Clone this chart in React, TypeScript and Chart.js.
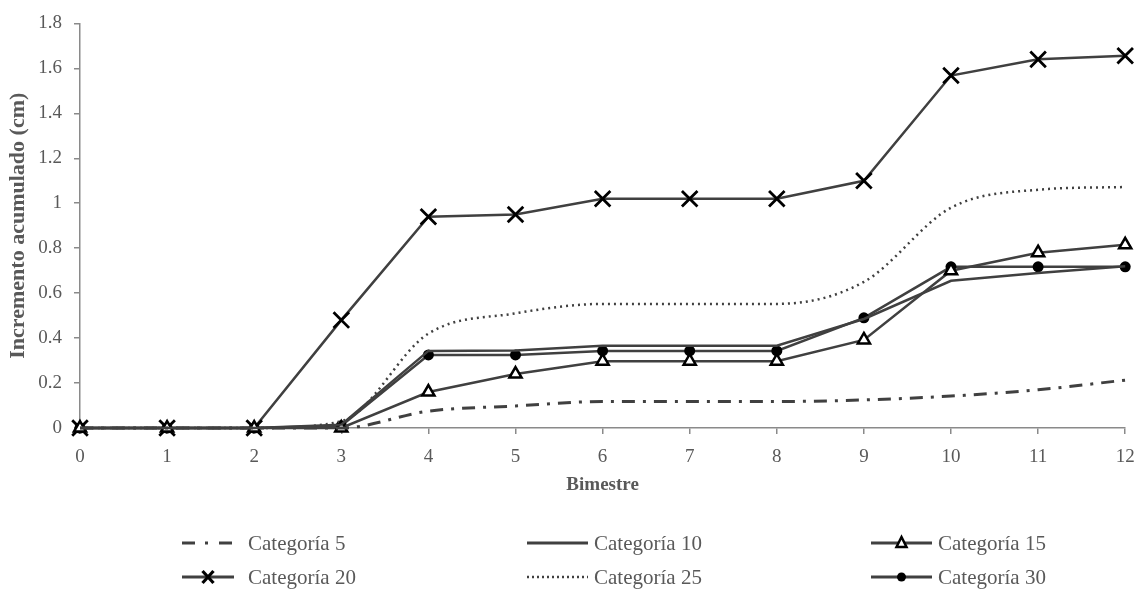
import React, { useEffect, useRef } from "react";
import { Chart, registerables } from "chart.js";

Chart.register(...registerables);

// ---------- data ----------
const bimestres = [0, 1, 2, 3, 4, 5, 6, 7, 8, 9, 10, 11, 12];
const cat5 = [0, 0, 0, 0, 0.075, 0.098, 0.118, 0.118, 0.118, 0.125, 0.142, 0.17, 0.213];
const cat10 = [0, 0, 0, 0.015, 0.343, 0.345, 0.366, 0.366, 0.366, 0.485, 0.655, 0.69, 0.72];
const cat15 = [0, 0, 0, 0, 0.16, 0.24, 0.297, 0.297, 0.297, 0.392, 0.7, 0.78, 0.815];
const cat20 = [0, 0, 0, 0.48, 0.94, 0.95, 1.02, 1.02, 1.02, 1.1, 1.568, 1.64, 1.656];
const cat25 = [0, 0, 0, 0.03, 0.42, 0.51, 0.552, 0.552, 0.552, 0.65, 0.98, 1.06, 1.072];
const cat30 = [0, 0, 0, 0.01, 0.325, 0.325, 0.343, 0.343, 0.343, 0.49, 0.717, 0.717, 0.717];
const seriesNames = ["Categoría 5", "Categoría 10", "Categoría 15", "Categoría 20", "Categoría 25", "Categoría 30"];
const yMin = 0;
const yMax = 1.8;
const yStep = 0.2;
const xTitle = "Bimestre";
const yTitle = "Incremento acumulado (cm)";

const FONT = '"Liberation Serif", "Times New Roman", serif';
const LINE = "#404040";
const AXIS = "#8a8a8a";
const TEXT = "#595959";

const pts = (arr: number[]) => arr.map((y, i) => ({ x: bimestres[i], y }));

export default function App() {
  const ref = useRef<HTMLCanvasElement | null>(null);

  useEffect(() => {
    if (!ref.current) return;
    const chart = new Chart(ref.current, {
      type: "line",
      data: {
        datasets: [
          {
            label: seriesNames[0],
            data: pts(cat5),
            borderColor: LINE,
            borderWidth: 3,
            borderDash: [13, 8, 3, 8],
            pointRadius: 0,
            cubicInterpolationMode: "monotone",
            clip: 20,
          },
          {
            label: seriesNames[1],
            data: pts(cat10),
            borderColor: LINE,
            borderWidth: 2.5,
            pointRadius: 0,
            clip: 20,
          },
          {
            label: seriesNames[2],
            data: pts(cat15),
            borderColor: LINE,
            borderWidth: 2.5,
            pointStyle: "triangle",
            pointRadius: 7,
            pointBorderWidth: 2.5,
            pointBorderColor: "#000",
            pointBackgroundColor: "#fff",
            clip: 20,
          },
          {
            label: seriesNames[3],
            data: pts(cat20),
            borderColor: LINE,
            borderWidth: 2.5,
            pointStyle: "crossRot",
            pointRadius: 11,
            pointBorderWidth: 2.8,
            pointBorderColor: "#000",
            clip: 20,
          },
          {
            label: seriesNames[4],
            data: pts(cat25),
            borderColor: LINE,
            borderWidth: 2.5,
            borderDash: [2, 4],
            pointRadius: 0,
            cubicInterpolationMode: "monotone",
            clip: 20,
          },
          {
            label: seriesNames[5],
            data: pts(cat30),
            borderColor: LINE,
            borderWidth: 2.5,
            pointStyle: "circle",
            pointRadius: 5.5,
            pointBorderWidth: 0,
            pointBackgroundColor: "#000",
            clip: 20,
          },
        ],
      },
      options: {
        animation: false,
        responsive: false,
        maintainAspectRatio: false,
        layout: { padding: { left: 0, right: 0, top: 0, bottom: 94 } },
        plugins: { legend: { display: false }, tooltip: { enabled: false } },
        scales: {
          x: {
            type: "linear",
            min: 0,
            max: 12,
            afterFit: (s: any) => {
              s.height = 68;
              s.paddingLeft = 0;
              s.paddingRight = 11;
            },
            ticks: {
              stepSize: 1,
              color: TEXT,
              padding: 12,
              font: { family: FONT, size: 19 },
            },
            grid: {
              drawOnChartArea: false,
              drawTicks: true,
              tickLength: 6,
              tickColor: AXIS,
              lineWidth: 1.5,
            },
            border: { color: AXIS, width: 1.5 },
            title: {
              display: true,
              text: xTitle,
              color: TEXT,
              font: { family: FONT, size: 19, weight: "bold" },
              padding: { top: 0, bottom: 0 },
            },
          },
          y: {
            min: yMin,
            max: yMax,
            afterFit: (s: any) => {
              s.width = 80;
            },
            ticks: {
              stepSize: yStep,
              color: TEXT,
              padding: 12,
              font: { family: FONT, size: 19 },
              callback: (v: any) => String(Number(Number(v).toFixed(1))),
            },
            grid: {
              drawOnChartArea: false,
              drawTicks: true,
              tickLength: 6,
              tickColor: AXIS,
              lineWidth: 1.5,
            },
            border: { color: AXIS, width: 1.5 },
            title: {
              display: true,
              text: yTitle,
              color: TEXT,
              font: { family: FONT, size: 22, weight: "bold" },
              padding: { top: 5, bottom: 0 },
            },
          },
        },
      },
    });
    return () => chart.destroy();
  }, []);

  const rowY = [543, 577];
  const cols = [
    { lx1: 182, lx2: 234, tx: 248 },
    { lx1: 527, lx2: 588, tx: 594 },
    { lx1: 871, lx2: 932, tx: 938 },
  ];

  const sample = (idx: number) => {
    const col = cols[idx % 3];
    const y = rowY[Math.floor(idx / 3)];
    const mid = (col.lx1 + col.lx2) / 2;
    const els: any[] = [];
    if (idx === 0) {
      els.push(<line key="l" x1={col.lx1} x2={col.lx2} y1={y} y2={y} stroke={LINE} strokeWidth={3} strokeDasharray="13,10,3,11" />);
    } else if (idx === 4) {
      els.push(<line key="l" x1={col.lx1} x2={col.lx2} y1={y} y2={y} stroke={LINE} strokeWidth={2.5} strokeDasharray="2,3" />);
    } else {
      els.push(<line key="l" x1={col.lx1} x2={col.lx2} y1={y} y2={y} stroke={LINE} strokeWidth={3} />);
    }
    if (idx === 2) {
      els.push(
        <polygon key="m" points={`${mid},${y - 6} ${mid - 5},${y + 4} ${mid + 5},${y + 4}`} fill="#fff" stroke="#000" strokeWidth={2.5} />
      );
    } else if (idx === 3) {
      els.push(
        <g key="m" stroke="#000" strokeWidth={3.2}>
          <line x1={mid - 5.5} y1={y - 6} x2={mid + 5.5} y2={y + 6} />
          <line x1={mid - 5.5} y1={y + 6} x2={mid + 5.5} y2={y - 6} />
        </g>
      );
    } else if (idx === 5) {
      els.push(<circle key="m" cx={mid} cy={y} r={4.5} fill="#000" />);
    }
    return els;
  };

  return (
    <div style={{ position: "fixed", left: 0, top: 0, width: 1139, height: 590, background: "#fff" }}>
      <canvas ref={ref} width={1139} height={590} style={{ position: "absolute", left: 0, top: 0 }} />
      <svg width={1139} height={590} style={{ position: "absolute", left: 0, top: 0, pointerEvents: "none" }}>
        {seriesNames.map((_, i) => (
          <g key={i}>{sample(i)}</g>
        ))}
      </svg>
      {seriesNames.map((name, i) => {
        const col = cols[i % 3];
        const y = rowY[Math.floor(i / 3)];
        return (
          <div
            key={name}
            style={{
              position: "absolute",
              left: col.tx,
              top: y - 13,
              height: 26,
              lineHeight: "26px",
              fontFamily: FONT,
              fontSize: 21,
              color: TEXT,
              whiteSpace: "nowrap",
            }}
          >
            {name}
          </div>
        );
      })}
    </div>
  );
}
